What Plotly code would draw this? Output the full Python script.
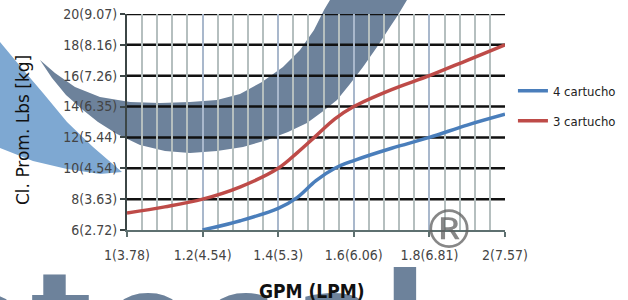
import plotly.graph_objects as go

# ---- data ----
x_red = [1.0, 1.1, 1.2, 1.3, 1.4, 1.45, 1.5, 1.55, 1.6, 1.7, 1.8, 1.9, 2.0]
y_red = [7.1, 7.5, 8.0, 8.8, 10.0, 11.0, 12.1, 13.2, 14.0, 15.1, 16.0, 17.0, 18.0]

x_blue = [1.2, 1.3, 1.4, 1.45, 1.5, 1.55, 1.6, 1.7, 1.8, 1.9, 2.0]
y_blue = [6.0, 6.6, 7.4, 8.1, 9.2, 10.0, 10.5, 11.3, 12.0, 12.8, 13.5]

series_names = ["4 cartucho", "3 cartucho"]

x_ticks = [1.0, 1.2, 1.4, 1.6, 1.8, 2.0]
x_labels = ["1(3.78)", "1.2(4.54)", "1.4(5.3)", "1.6(6.06)", "1.8(6.81)", "2(7.57)"]
y_ticks = [6, 8, 10, 12, 14, 16, 18, 20]
y_labels = ["6(2.72)", "8(3.63)", "10(4.54)", "12(5.44)", "14(6.35)", "16(7.26)", "18(8.16)", "20(9.07)"]

# ---- style ----
BLUE = "#4a7ebb"
RED = "#be4b48"
WM_DARK = "#6d829b"
WM_LIGHT = "#7ea8d2"
TICKFONT = dict(family="DejaVu Sans Condensed", size=14, color="#444")

W, H = 628, 300
ML, MR, MT, MB = 127, 123, 14, 70
PW, PH = W - ML - MR, H - MT - MB


def px(xp):
    return (xp - ML) / PW


def py(yp):
    return (H - MB - yp) / PH


def poly(points):
    return "M " + " L ".join(f"{px(a):.4f},{py(b):.4f}" for a, b in points) + " Z"


fig = go.Figure()
fig.add_trace(go.Scatter(x=x_blue, y=y_blue, mode="lines", name=series_names[0],
                         legendgroup="a",
                         line=dict(color=BLUE, width=3.5, shape="spline")))
fig.add_trace(go.Scatter(x=x_red, y=y_red, mode="lines", name=series_names[1],
                         legendgroup="b",
                         line=dict(color=RED, width=3.5, shape="spline")))

shapes = []
# watermark (background logo)
light = [(-5, 35), (0, 42), (20, 66), (43, 93), (67, 122), (93, 147), (122, 172),
         (100, 174), (67, 169), (33, 161), (0, 148), (-5, 146)]
dark = [(40, 60), (55, 73), (75, 87), (100, 97), (130, 102), (160, 103), (190, 102),
        (217, 100), (240, 94), (262, 82), (283, 67), (300, 50), (314, 30), (324, 10),
        (330, 0), (336, -12),
        (418, -12), (407, 0), (398, 15), (390, 27), (377, 47), (363, 67), (350, 84),
        (337, 100), (322, 112), (307, 123), (288, 132), (267, 140), (243, 147),
        (217, 151), (190, 153), (165, 151), (140, 145), (117, 134), (98, 122),
        (83, 110), (66, 95), (52, 78)]
for pts, col in ((light, WM_LIGHT), (dark, WM_DARK)):
    shapes.append(dict(type="path", path=poly(pts), xref="paper", yref="paper",
                       fillcolor=col, line=dict(width=0), layer="below"))

# watermark letters (drawn below axes so tick labels stay on top)
wm_letters = [("o", -18, 311), ("t", 61, 311), ("o", 148, 311), ("c", 238, 311),
              ("a", 337, 311), ("l", 405, 311)]
for ch, cx, cy in wm_letters:
    shapes.append(dict(type="rect", xref="paper", yref="paper",
                       x0=px(cx - 60), x1=px(cx + 60), y0=py(cy + 60), y1=py(cy - 60),
                       line=dict(width=0), fillcolor="rgba(0,0,0,0)", layer="below",
                       label=dict(text=f"<b>{ch}</b>", textposition="middle center",
                                  font=dict(family="DejaVu Sans", size=128, color=WM_DARK))))

# horizontal black grid lines (at y tick values)
for yv in y_ticks[1:]:
    shapes.append(dict(type="line", xref="x", yref="y", x0=x_ticks[0], x1=x_ticks[-1],
                       y0=yv, y1=yv, line=dict(color="#111", width=2.5), layer="below"))

fig.update_layout(
    width=W, height=H,
    margin=dict(l=ML, r=MR, t=MT, b=MB, autoexpand=False),
    paper_bgcolor="white", plot_bgcolor="rgba(0,0,0,0)",
    showlegend=True,
    legend=dict(x=1.021, y=0.714, xanchor="left", yanchor="top",
                font=dict(family="DejaVu Sans Condensed", size=13, color="#222"),
                tracegroupgap=10, bgcolor="rgba(0,0,0,0)"),
    shapes=shapes,
    xaxis=dict(range=[x_ticks[0], x_ticks[-1]], tickvals=x_ticks, ticktext=x_labels,
               tickfont=TICKFONT, showgrid=True, gridcolor="#a9b8cc", gridwidth=2,
               zeroline=False, showline=True, linecolor="#5e7070", linewidth=2,
               ticks="outside", ticklen=5, tickcolor="#5e7070", tickwidth=2,
               ticklabelstandoff=6,
               minor=dict(dtick=0.04, tick0=1, showgrid=True, gridcolor="#b5bfbf",
                          gridwidth=2)),
    yaxis=dict(range=[y_ticks[0], y_ticks[-1]], tickvals=y_ticks, ticktext=y_labels,
               tickfont=TICKFONT, showgrid=False, zeroline=False,
               showline=True, linecolor="#3c4646", linewidth=2,
               ticks="outside", ticklen=5, tickcolor="#3c4646", tickwidth=2),
    annotations=[
        dict(text="®", xref="paper", yref="paper", x=px(449), y=py(229),
             xanchor="center", yanchor="middle",
             showarrow=False, font=dict(family="DejaVu Sans", size=54,
                                        color="rgba(95,95,95,0.75)")),
        dict(text="Cl. Prom. Lbs [kg]", textangle=-90, xref="paper", yref="paper",
             x=px(23), y=py(130), xanchor="center", yanchor="middle", showarrow=False,
             font=dict(family="DejaVu Sans", size=17, color="#111")),
        dict(text="<b>GPM (LPM)</b>", xref="paper", yref="paper",
             x=px(312), y=py(291), xanchor="center", yanchor="middle", showarrow=False,
             font=dict(family="DejaVu Sans Condensed", size=19, color="#111")),
    ],
)

fig.write_html("out.html", config={"displayModeBar": False},
               post_script="document.body.style.margin='0';document.body.style.overflow='hidden';")
